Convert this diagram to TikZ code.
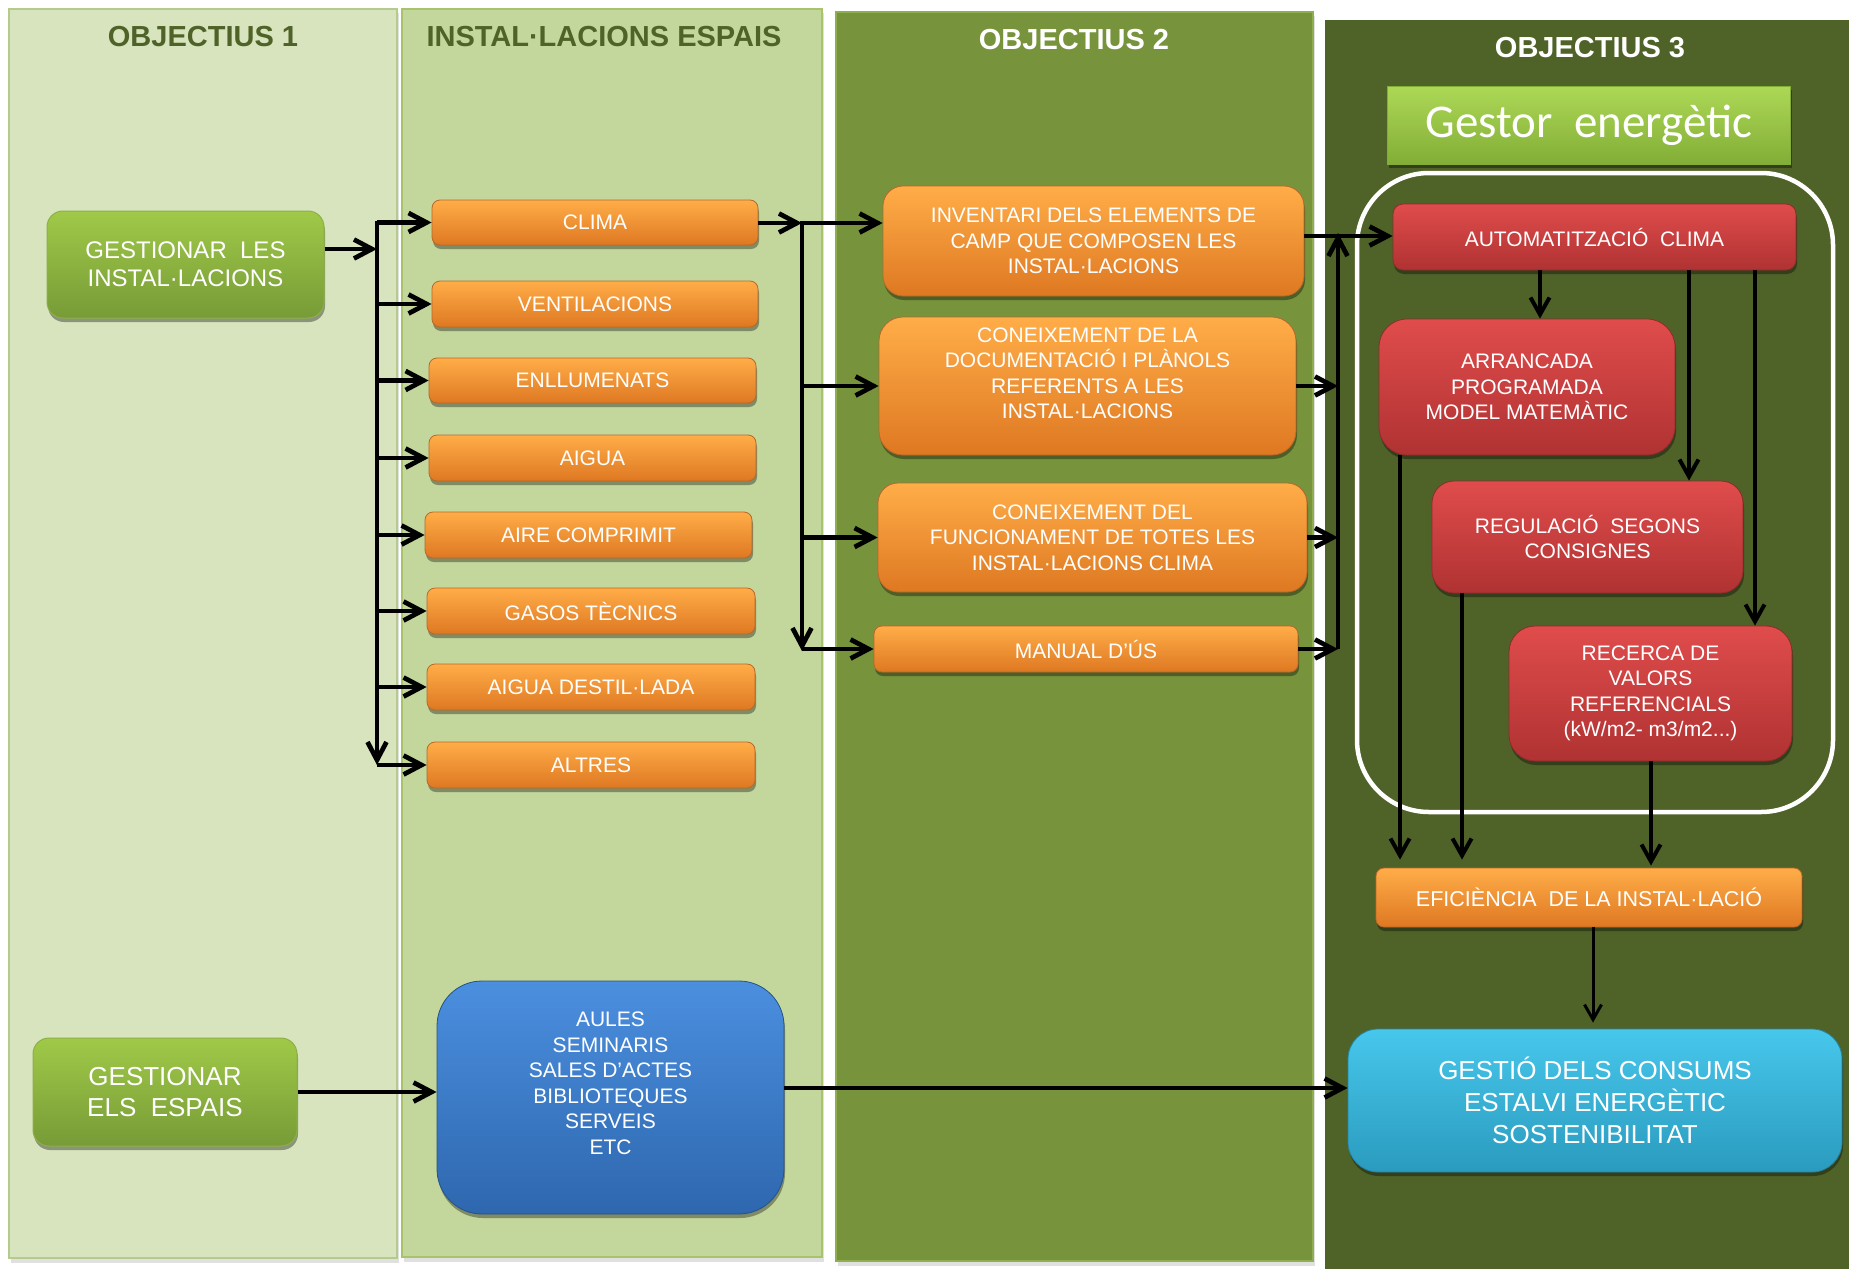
\documentclass[tikz,border=0pt]{standalone}
\usepackage{fontspec}
\setmainfont{Liberation Sans}
\newfontfamily\calib{Carlito}
\usetikzlibrary{arrows.meta,shadows}
\definecolor{cA}{HTML}{D7E4BD}
\definecolor{cB}{HTML}{C3D69B}
\definecolor{cC}{HTML}{77933C}
\definecolor{cD}{HTML}{4F6228}
\definecolor{bA}{HTML}{B5CB8C}
\definecolor{bB}{HTML}{A7C36C}
\definecolor{bC}{HTML}{8FAE50}
\definecolor{oT}{HTML}{FFAD48}
\definecolor{oM}{HTML}{F7922F}
\definecolor{oB}{HTML}{DE7822}
\definecolor{oE}{HTML}{B8682A}
\definecolor{rT}{HTML}{E04C4C}
\definecolor{rM}{HTML}{D24040}
\definecolor{rB}{HTML}{B03232}
\definecolor{rE}{HTML}{8E2C2C}
\definecolor{gT}{HTML}{A0C948}
\definecolor{gB}{HTML}{779B37}
\definecolor{gE}{HTML}{8DB046}
\definecolor{eT}{HTML}{ADD856}
\definecolor{eB}{HTML}{82AE37}
\definecolor{uT}{HTML}{4B8FDF}
\definecolor{uB}{HTML}{2E67AE}
\definecolor{kT}{HTML}{47C7EC}
\definecolor{kB}{HTML}{2A9BBE}
\begin{document}
\begin{tikzpicture}[x=1pt,y=-1pt,
  box/.style={rectangle, inner sep=0pt, align=center, text=white,
    font=\fontsize{21}{25.5}\selectfont,
    drop shadow={shadow xshift=1pt, shadow yshift=-4pt, fill=black, opacity=.35}},
  obox/.style={box, top color=oT, middle color=oM, bottom color=oB, draw=oE, line width=0.8pt},
  rbox/.style={box, top color=rT, middle color=rM, bottom color=rB, draw=rE, line width=0.8pt},
  gbox/.style={box, top color=gT, bottom color=gB, draw=gE, line width=1pt, rounded corners=16pt},
  ubox/.style={box, top color=uT, bottom color=uB, draw=uB!80!black, line width=0.8pt, rounded corners=45pt},
  kbox/.style={box, top color=kT, bottom color=kB, draw=kB!85!black, line width=0.8pt, rounded corners=30pt},
  ebox/.style={box, top color=eT, bottom color=eB, draw=eB, line width=0.8pt},
  hdr/.style={font=\fontsize{29}{32}\selectfont\bfseries, inner sep=0pt},
  arr/.style={line width=4.7pt, black, -{Straight Barb[length=18pt,width=19pt]}},
  arrf/.style={line width=4pt, black, -{Straight Barb[length=17pt,width=19pt]}},
  arrs/.style={line width=3pt, black, -{Straight Barb[length=15pt,width=17pt]}}
]
\useasboundingbox (0,0) rectangle (1849,1269);
\fill[white] (0,0) rectangle (1849,1269);
% columns
\fill[black, opacity=.12] (11,13) rectangle (399,1263);
\fill[black, opacity=.12] (404,13) rectangle (824,1262);
\fill[black, opacity=.12] (838,16) rectangle (1315,1266);
\draw[fill=cA, draw=bA, line width=1.5pt] (9,9) rectangle (397,1258);
\draw[fill=cB, draw=bB, line width=1.5pt] (402,9) rectangle (822,1257);
\draw[fill=cC, draw=bC, line width=1.5pt] (836,12) rectangle (1313,1261);
\fill[cD] (1325,20) rectangle (1849,1269);
% headers
\node[hdr, text=cD] (h1) at (203,37) {OBJECTIUS 1};
\node[hdr, text=cD] (h2) at (604,37) {INSTAL·LACIONS ESPAIS};
\node[hdr, text=white] (h3) at (1074,40) {OBJECTIUS 2};
\node[hdr, text=white] (h4) at (1590,48) {OBJECTIUS 3};
% gestor
\node[ebox, minimum width=403, minimum height=78, font=\calib\fontsize{47}{50}\selectfont] (gestor) at (1589,125) {Gestor\ \ energètic};
% white frame
\draw[white, line width=4.5pt, rounded corners=72pt] (1357,173) rectangle (1833,812);
% objectius 1
\node[gbox, minimum width=277, minimum height=107, font=\fontsize{24}{28}\selectfont] (g1) at (185.5,264.5) {GESTIONAR\ \ LES\\INSTAL·LACIONS};
\node[gbox, minimum width=264, minimum height=108, font=\fontsize{26}{31}\selectfont] (g2) at (165,1092) {GESTIONAR\\ELS\ \ ESPAIS};
% instal·lacions
\node[obox, rounded corners=8pt, minimum width=326, minimum height=45] (clima) at (595,222.5) {CLIMA};
\node[obox, rounded corners=8pt, minimum width=326, minimum height=46] (vent) at (595,304) {VENTILACIONS};
\node[obox, rounded corners=8pt, minimum width=327, minimum height=45] (enll) at (592.5,380.5) {ENLLUMENATS};
\node[obox, rounded corners=8pt, minimum width=327, minimum height=46] (aigua) at (592.5,458) {AIGUA};
\node[obox, rounded corners=8pt, minimum width=327, minimum height=46] (aire) at (588.5,535) {AIRE COMPRIMIT};
\node[obox, rounded corners=8pt, minimum width=328, minimum height=46] (gasos) at (591,611) {GASOS TÈCNICS};
\node[obox, rounded corners=8pt, minimum width=328, minimum height=46] (dest) at (591,687) {AIGUA DESTIL·LADA};
\node[obox, rounded corners=8pt, minimum width=328, minimum height=46] (altres) at (591,765) {ALTRES};
\node[ubox, minimum width=347, minimum height=233] (aules) at (610.5,1097.5) {AULES\\SEMINARIS\\SALES D'ACTES\\BIBLIOTEQUES\\SERVEIS\\ETC\\[3pt]\mbox{}};
% objectius 2
\node[obox, rounded corners=20pt, minimum width=421, minimum height=110] (inv) at (1093.5,241) {INVENTARI DELS ELEMENTS DE\\CAMP QUE COMPOSEN LES\\INSTAL·LACIONS};
\node[obox, rounded corners=24pt, minimum width=417, minimum height=138] (doc) at (1087.5,386) {CONEIXEMENT DE LA\\DOCUMENTACIÓ I PLÀNOLS\\REFERENTS A LES\\INSTAL·LACIONS\\\mbox{}};
\node[obox, rounded corners=20pt, minimum width=429, minimum height=109] (func) at (1092.5,537.5) {CONEIXEMENT DEL\\FUNCIONAMENT DE TOTES LES\\INSTAL·LACIONS CLIMA};
\node[obox, rounded corners=8pt, minimum width=424, minimum height=46] (manual) at (1086,649) {MANUAL D'ÚS};
% objectius 3
\node[rbox, rounded corners=10pt, minimum width=403, minimum height=66] (auto) at (1594.5,237) {AUTOMATITZACIÓ\ \ CLIMA};
\node[rbox, rounded corners=28pt, minimum width=296, minimum height=136] (arrn) at (1527,387) {ARRANCADA\\PROGRAMADA\\MODEL MATEMÀTIC};
\node[rbox, rounded corners=22pt, minimum width=311, minimum height=112] (reg) at (1587.5,537) {REGULACIÓ\ \ SEGONS\\CONSIGNES};
\node[rbox, rounded corners=26pt, minimum width=283, minimum height=135] (rec) at (1650.5,693.5) {RECERCA DE\\VALORS\\REFERENCIALS\\(kW/m2- m3/m2...)};
\node[obox, rounded corners=8pt, minimum width=426, minimum height=59, font=\fontsize{21.5}{25}\selectfont] (efi) at (1589,897.5) {EFICIÈNCIA\ \ DE LA INSTAL·LACIÓ};
\node[kbox, minimum width=494, minimum height=143, font=\fontsize{26}{32}\selectfont] (gest) at (1595,1100.5) {GESTIÓ DELS CONSUMS\\ESTALVI ENERGÈTIC\\SOSTENIBILITAT};
% connectors objectius 1
\coordinate (t1a) at (377,221);
\coordinate (t1b) at (377,765);
\coordinate (t1g) at (377,249);
\draw[arr] (g1.east |- t1g) -- (t1g);
\draw[arr] (t1a) -- (t1b);
\foreach \n in {clima,vent,enll,aigua,aire,gasos,dest,altres}
  \draw[arr] (t1a |- \n.west) -- (\n.west);
% connectors objectius 2
\coordinate (t2a) at (802,223);
\coordinate (t2b) at (802,651);
\draw[arr] (clima.east |- t2a) -- (t2a);
\draw[line width=4.7pt] (802,220.65) -- (802,226);
\draw[arr] (t2a) -- (t2b);
\draw[arr] (t2a) -- (inv.west |- t2a);
\draw[arr] (t2a |- doc.west) -- (doc.west);
\draw[arr] (t2a |- func.west) -- (func.west);
\draw[arr] (t2a |- manual.west) -- (manual.west);
% connectors objectius 3
\coordinate (t3a) at (1338,233);
\coordinate (t3b) at (1338,649);
\coordinate (t3i) at (1338,236);
\draw[arr] (inv.east |- t3i) -- (auto.west |- t3i);
\draw[arr] (t3b) -- (t3a);
\draw[arr] (doc.east) -- (t3a |- doc.east);
\draw[arr] (func.east) -- (t3a |- func.east);
\draw[arr] (manual.east) -- (t3a |- manual.east);
% gestor energetic connectors
\coordinate (xa) at (1540,0);
\coordinate (xb) at (1689,0);
\coordinate (xc) at (1755,0);
\coordinate (xd) at (1400,0);
\coordinate (xe) at (1462,0);
\coordinate (xf) at (1651,0);
\coordinate (xg) at (1593,0);
\draw[arrf] (auto.south -| xa) -- (arrn.north -| xa);
\draw[arrf] (auto.south -| xb) -- (reg.north -| xb);
\draw[arrf] (auto.south -| xc) -- (rec.north -| xc);
\draw[arrf] (arrn.south -| xd) -- ([yshift=8pt]efi.north -| xd);
\draw[arrf] (reg.south -| xe) -- ([yshift=8pt]efi.north -| xe);
\draw[arrf] (rec.south -| xf) -- ([yshift=2pt]efi.north -| xf);
\draw[arrs] (efi.south -| xg) -- ([yshift=6pt]gest.north -| xg);
% espais
\coordinate (yb) at (0,1088);
\draw[arr] (g2.east) -- (aules.west |- g2.east);
\draw[arr] (aules.east |- yb) -- (gest.west |- yb);
\end{tikzpicture}
\end{document}
